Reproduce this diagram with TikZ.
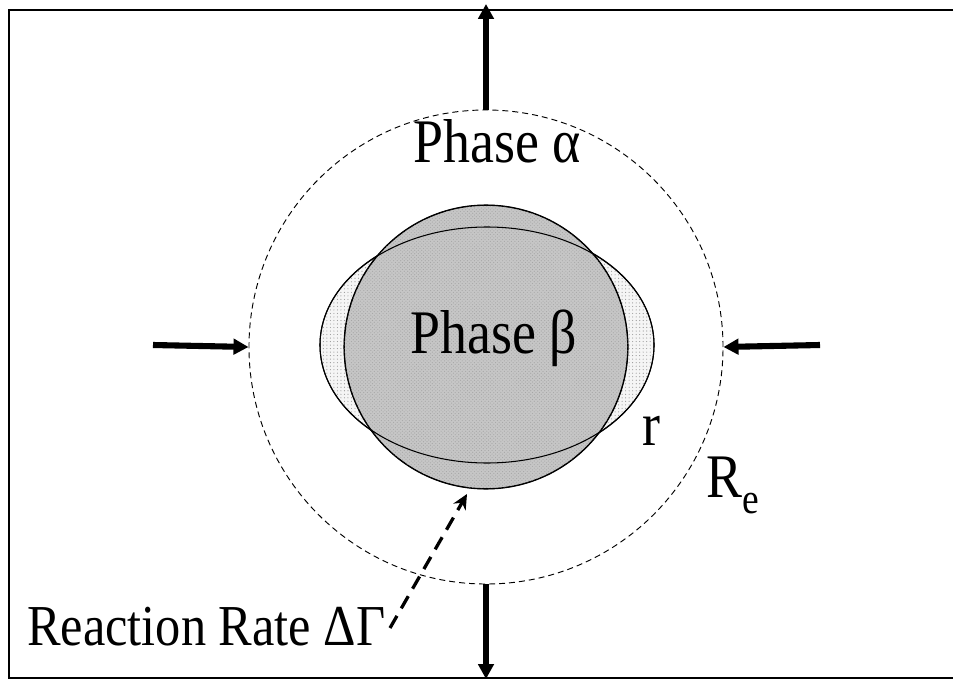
\documentclass[tikz,border=0pt]{standalone}
\usepackage{fontspec}
\setmainfont{Liberation Serif}
\usepackage{graphicx}
\usepackage{tikz}
\usetikzlibrary{arrows.meta, shapes.geometric, patterns}

\newcommand{\tallfont}[1]{\scalebox{1}[1.15]{#1}}

\begin{document}
\begin{tikzpicture}[
  x=0.03cm, y=-0.03cm,
  lbl/.style={font=\fontsize{46}{52}\selectfont, inner sep=0pt},
  ratelbl/.style={font=\fontsize{43}{48}\selectfont, inner sep=0pt},
  sublbl/.style={font=\fontsize{32}{36}\selectfont, inner sep=0pt},
  outer/.style={circle, draw, line width=0.8pt, dash pattern=on 1.8mm off 1.2mm, minimum size=14.22cm, inner sep=0pt},
  grain/.style={ellipse, draw, line width=0.9pt, minimum width=10.02cm, minimum height=7.11cm, inner sep=0pt, fill=gray!8},
  core/.style={circle, draw, line width=0.9pt, minimum size=8.5cm, inner sep=0pt, fill=gray!45},
  arr/.style={-{Triangle[length=4.5mm, width=4.6mm]}, line width=5.2pt},
  darr/.style={-{Stealth[length=4.5mm, width=4.2mm]}, line width=2.8pt, dash pattern=on 4.2mm off 2.6mm}
]
\useasboundingbox (0,0) rectangle (954,679);

% frame
\draw[line width=1.6pt] (953,10) -- (9,10) -- (9,678) -- (953,678);

% phases
\node[outer] (re) at (486,347) {};
\node[grain] (ell) at (487,345) {};
\fill[pattern=dots, pattern color=gray!80] (487,345) ellipse[x radius=167, y radius=118];
\node[core] (beta) at (486,347) {};
\fill[pattern=crosshatch dots, pattern color=gray!70] (486,347) circle[radius=142];
\draw[line width=0.9pt] (487,345) ellipse[x radius=167, y radius=118];
\draw[line width=0.9pt] (486,347) circle[radius=142];

% flux arrows
\coordinate (n) at (486,4);
\coordinate (s) at (486,679);
\coordinate (w) at (153,345);
\coordinate (e) at (820,345);
\draw[arr] (re.north) -- (n);
\draw[arr] (re.south) -- (s);
\draw[arr] (w) -- (re.west);
\draw[arr] (e) -- (re.east);

% labels
\node[lbl, anchor=base] (alpha) at (497,163) {\tallfont{Phase α}};
\node[lbl, anchor=base] (blbl) at (494,353) {\tallfont{Phase β}};
\node[lbl, anchor=base] (r) at (651,445) {\tallfont{r}};
\node[lbl, anchor=base] (R) at (724,497) {\tallfont{R}};
\node[sublbl, anchor=base west] (sub) at (R.base east) {\raisebox{-14pt}{\tallfont{e}}};
\node[ratelbl, anchor=base west] (rate) at (27,645) {\tallfont{Reaction Rate ΔΓ}};

\coordinate (rr) at (390,628);
\draw[darr] (rr) -- (467,494);

\end{tikzpicture}
\end{document}
